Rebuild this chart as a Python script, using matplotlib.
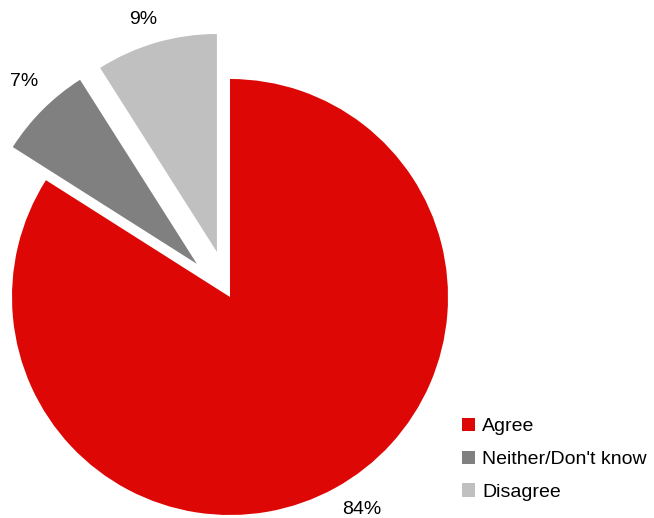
import matplotlib
matplotlib.use("Agg")
import matplotlib.pyplot as plt
import matplotlib.transforms as mtransforms
from matplotlib.patches import Patch

plt.rcParams['font.family'] = ['Liberation Sans', 'DejaVu Sans']

categories = ["Agree", "Neither/Don't know", "Disagree"]
values = [84, 7, 9]
colors = ["#DD0806", "#808080", "#C0C0C0"]
explode = [0, 0.215, 0.215]

fig = plt.figure(figsize=(6.54, 5.18), dpi=100)
ax = fig.add_axes([0, 0, 1, 1])
wedges, texts, autotexts = ax.pie(
    values, colors=colors, explode=explode, startangle=90, counterclock=False,
    autopct=lambda p: f"{p:.0f}%", pctdistance=1.12, radius=1.0,
    textprops=dict(fontsize=14, color="#000000"))
# small pixel nudges of the percentage labels (points at 100 dpi ~ 0.72 px)
nudges = [(10, 1), (0, 7), (-4, -1.5)]
for t, (dx, dy) in zip(autotexts, nudges):
    t.set_transform(mtransforms.offset_copy(ax.transData, fig=fig, x=dx, y=dy, units='points'))
ax.set_xlim(-230/218, (654-230)/218)
ax.set_ylim(-221/218, 297/218)
ax.set_aspect('auto')
ax.axis('off')

handles = [Patch(facecolor=c, edgecolor='none') for c in colors]
leg = ax.legend(handles, categories, loc='upper left', bbox_to_anchor=(462/654, 1-418/518),
                frameon=False, fontsize=14, handlelength=0.68, handleheight=0.68,
                handletextpad=0.35, labelspacing=0.78, borderaxespad=0, borderpad=0)
fig.savefig("out.png", dpi=100)
